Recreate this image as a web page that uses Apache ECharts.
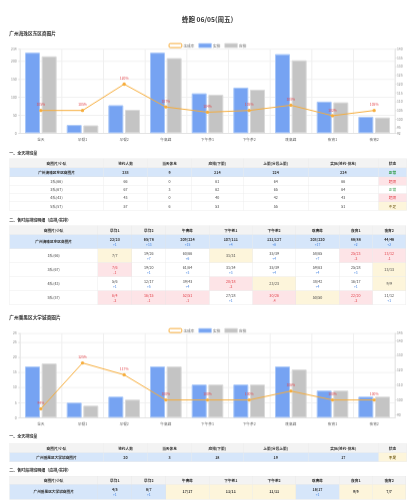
<!DOCTYPE html>
<html>
<head>
<meta charset="utf-8">
<script src="https://cdn.jsdelivr.net/npm/echarts@6/dist/echarts.min.js"></script>
<style>
html, body { margin: 0; padding: 0; width: 415px; height: 500px; overflow: hidden; background: #fff; }
#page { position: absolute; left: 0; top: 0; width: 1245px; height: 1500px; transform: scale(0.333333); transform-origin: 0 0;
  font-family: "Noto Sans CJK SC", "Noto Sans", sans-serif; color: #333; }
.abs { position: absolute; }
.title { left: 0; width: 1245px; text-align: center; font-size: 20px; font-weight: bold; line-height: 28px; }
.sec { left: 28px; font-size: 14px; font-weight: bold; line-height: 20px; }
.sub { left: 28px; font-size: 12px; font-weight: bold; line-height: 18px; }
.chart { left: 0; width: 1245px; }
table { position: absolute; left: 28px; border-collapse: collapse; table-layout: fixed; }
td, th { border: 1px solid #e4e4e4; text-align: center; font-size: 11px; padding: 0; color: #444; font-weight: normal; }
th { background: #f3f3f3; font-weight: bold; color: #333; }
tr.sum td { background: #d6e6fa; font-weight: bold; color: #333; }
td.pink { background: #fde4e7 !important; }
td.yellow { background: #fdf5db !important; }
.d { font-size: 10px; color: #3d7fe0; line-height: 13px; font-weight: normal; }
.v { line-height: 15px; }
td.pink .v, td.pink .d { color: #e23b44; }
.ok { color: #2e9a45 !important; }
.over { color: #e23b44 !important; }
.low { color: #7a6420 !important; }
</style>
</head>
<body>
<div id="page">
  <div class="abs title" style="top:45px">蜂跑 06/05(周五)</div>

  <div class="abs sec" style="top:89px">广州海珠区东区商圈片</div>
  <div class="abs chart" id="main1" style="top:115px;height:320px"></div>
  <div class="abs sub" style="top:450px">一、全天排班量</div>
  <table id="t1a" style="top:476px"></table>
  <div class="abs sub" style="top:652px">二、各时段排班明细（应排/实排）</div>
  <table id="t1b" style="top:677px"></table>

  <div class="abs sec" style="top:942px">广州番禺区大学城商圈片</div>
  <div class="abs chart" id="main2" style="top:970px;height:315px"></div>
  <div class="abs sub" style="top:1301px">一、全天排班量</div>
  <table id="t2a" style="top:1330px"></table>
  <div class="abs sub" style="top:1401px">二、各时段排班明细（应排/实排）</div>
  <table id="t2b" style="top:1428px"></table>
</div>

<script>
var categories = ['全天', '早餐1', '早餐2', '午高峰', '下午茶1', '下午茶2', '晚高峰', '夜宵1', '夜宵2'];
var periods = ['早餐1', '早餐2', '午高峰', '下午茶1', '下午茶2', '晚高峰', '夜宵1', '夜宵2'];

// 海珠区东区
var haizhuActual = [224, 23, 78, 224, 111, 127, 220, 88, 46];
var haizhuPlan = [214, 22, 65, 209, 107, 121, 203, 86, 44];
var haizhuRate = [105, 105, 120, 107, 104, 105, 108, 102, 105];

// 番禺区大学城
var panyuActual = [17, 5, 7, 17, 11, 11, 17, 9, 7];
var panyuPlan = [18, 4, 6, 17, 11, 11, 16, 9, 7];
var panyuRate = [94, 125, 117, 100, 100, 100, 106, 100, 100];

// 全天排班量: 名称, 签约人数, 当天休息, 应排(下限), 上限(分段上限), 实际(签约-休息)
var haizhuDay = [
    ['广州海珠区东区商圈片', 233, 9, 214, 224, 224],
    ['1队(66)', 66, 0, 61, 64, 66],
    ['3队(67)', 67, 3, 62, 65, 64],
    ['4队(43)', 43, 0, 40, 42, 43],
    ['5队(57)', 57, 6, 53, 55, 51]
];
var panyuDay = [
    ['广州番禺区大学城商圈片', 20, 3, 18, 19, 17]
];

// 各时段 应排 / 实排
var haizhuSlots = [
    ['广州海珠区东区商圈片', [22, 65, 209, 107, 121, 203, 86, 44], [23, 78, 224, 111, 127, 220, 88, 46]],
    ['1队(66)', [7, 19, 60, 31, 35, 58, 25, 13], [7, 26, 66, 31, 39, 65, 23, 12]],
    ['3队(67)', [7, 19, 61, 31, 35, 59, 25, 13], [6, 20, 64, 34, 39, 63, 28, 13]],
    ['4队(43)', [5, 12, 39, 20, 23, 38, 16, 9], [6, 17, 43, 18, 23, 42, 17, 9]],
    ['5队(57)', [6, 16, 52, 27, 30, 50, 22, 11], [4, 15, 51, 28, 26, 50, 20, 12]]
];
var panyuSlots = [
    ['广州番禺区大学城商圈片', [4, 6, 17, 11, 11, 16, 9, 7], [5, 7, 17, 11, 11, 17, 9, 7]]
];

var orange = '#f6ad3c';

function chartOption(act, plan, rate, leftMax, rightMin, rightMax, rightSplit, gridTop, gridBottom) {
    return {
        animation: false,
        textStyle: { fontFamily: '"Noto Sans CJK SC", sans-serif' },
        legend: {
            top: 9,
            left: 'center',
            itemWidth: 38,
            itemHeight: 12,
            itemGap: 12,
            textStyle: { fontSize: 11, color: '#666' },
            data: [
                { name: '达成率', icon: 'roundRect', itemStyle: { color: '#fff', borderColor: orange, borderWidth: 3 } },
                { name: '实排', icon: 'rect' },
                { name: '应排', icon: 'rect' }
            ]
        },
        grid: { left: 60, right: 60, top: gridTop, bottom: gridBottom },
        xAxis: {
            type: 'category',
            data: categories,
            axisLine: { lineStyle: { color: '#e3e3e3', width: 3 } },
            axisTick: { show: false },
            axisLabel: { color: '#666', fontSize: 11, margin: 13 },
            splitLine: { show: true, lineStyle: { color: '#efefef', width: 3 } }
        },
        yAxis: [{
            type: 'value',
            min: 0,
            max: leftMax,
            splitNumber: 5,
            axisLine: { show: true, lineStyle: { color: '#e6e6e6', width: 3 } },
            axisTick: { show: true, length: 5, lineStyle: { color: '#e0e0e0', width: 3 } },
            axisLabel: { color: '#888', fontSize: 10, margin: 10 },
            splitLine: { lineStyle: { color: '#f1f1f1', width: 3 } }
        }, {
            type: 'value',
            min: rightMin,
            max: rightMax,
            splitNumber: rightSplit,
            axisLine: { show: true, lineStyle: { color: '#e6e6e6', width: 3 } },
            axisTick: { show: true, length: 5, lineStyle: { color: '#e0e0e0', width: 3 } },
            axisLabel: { color: '#888', fontSize: 10, margin: 6 },
            splitLine: { show: false }
        }],
        series: [{
            name: '实排',
            type: 'bar',
            barWidth: 45,
            barGap: '11%',
            data: act,
            itemStyle: { color: '#76a3f2', borderColor: '#a9c7f8', borderWidth: 3 }
        }, {
            name: '应排',
            type: 'bar',
            barWidth: 45,
            data: plan,
            itemStyle: { color: '#c4c4c4', borderColor: '#dadada', borderWidth: 3 }
        }, {
            name: '达成率',
            type: 'line',
            yAxisIndex: 1,
            data: rate,
            symbol: 'circle',
            symbolSize: 10,
            lineStyle: { color: orange, width: 3 },
            itemStyle: { color: orange },
            label: { show: true, position: 'top', distance: 7, formatter: '{c}%', color: '#e3474d', fontSize: 10 }
        }]
    };
}

var myChart1 = echarts.init(document.getElementById('main1'), null, { devicePixelRatio: 1 / 3 });
myChart1.setOption(chartOption(haizhuActual, haizhuPlan, haizhuRate, 234, 92, 140, 10, 32, 37));

var myChart2 = echarts.init(document.getElementById('main2'), null, { devicePixelRatio: 1 / 3 });
myChart2.setOption(chartOption(panyuActual, panyuPlan, panyuRate, 28, 88, 145, 5, 30, 32));

function dayTable(id, rows) {
    var widths = [282, 132, 132, 155, 195, 211, 84];
    var heads = ['商圈片/小队', '签约人数', '当天休息', '应排(下限)', '上限(分段上限)', '实际(签约-休息)', '状态'];
    var html = '<colgroup>' + widths.map(function (w) { return '<col style="width:' + w + 'px">'; }).join('') + '</colgroup>';
    html += '<tr style="height:27px">' + heads.map(function (h) { return '<th>' + h + '</th>'; }).join('') + '</tr>';
    rows.forEach(function (r, i) {
        var status, cls, bg = '';
        if (r[5] > r[4]) { status = '超限'; cls = 'over'; bg = 'pink'; }
        else if (r[5] < r[3]) { status = '不足'; cls = 'low'; bg = 'yellow'; }
        else { status = '正常'; cls = 'ok'; }
        html += '<tr' + (i === 0 ? ' class="sum" style="height:27px"' : ' style="height:25px"') + '>';
        for (var k = 0; k < 6; k++) html += '<td>' + r[k] + '</td>';
        html += '<td class="' + bg + '"><span class="' + cls + '">' + status + '</span></td></tr>';
    });
    document.getElementById(id).innerHTML = html;
}

function slotTable(id, rows, headH, rowH) {
    var widths = [265, 102, 102, 130, 130, 130, 130, 100, 100];
    var html = '<colgroup>' + widths.map(function (w) { return '<col style="width:' + w + 'px">'; }).join('') + '</colgroup>';
    html += '<tr style="height:' + headH + 'px"><th>商圈片/小队</th>' + periods.map(function (p) { return '<th>' + p + '</th>'; }).join('') + '</tr>';
    rows.forEach(function (r, i) {
        html += '<tr' + (i === 0 ? ' class="sum"' : '') + ' style="height:' + rowH + 'px"><td>' + r[0] + '</td>';
        for (var k = 0; k < periods.length; k++) {
            var p = r[1][k], a = r[2][k], diff = a - p;
            if (diff === 0) {
                html += '<td class="yellow"><div class="v">' + p + '/' + a + '</div></td>';
            } else {
                html += '<td class="' + (diff < 0 ? 'pink' : '') + '"><div class="v">' + p + '/' + a + '</div><div class="d">' + (diff > 0 ? '+' : '') + diff + '</div></td>';
            }
        }
        html += '</tr>';
    });
    document.getElementById(id).innerHTML = html;
}

dayTable('t1a', haizhuDay);
slotTable('t1b', haizhuSlots, 26, 42);
dayTable('t2a', panyuDay);
slotTable('t2b', panyuSlots, 24, 45);
</script>
</body>
</html>
